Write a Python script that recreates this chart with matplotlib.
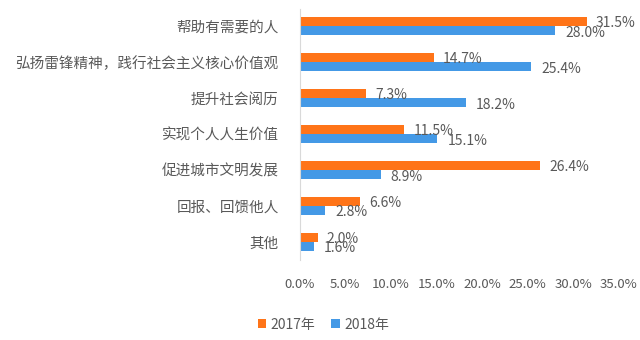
import numpy as np
import matplotlib.pyplot as plt

plt.rcParams['font.family'] = ['Noto Sans CJK SC', 'DejaVu Sans']

# 志愿服务动机，2017年与2018年对比（%）
categories = ['帮助有需要的人', '弘扬雷锋精神，践行社会主义核心价值观', '提升社会阅历',
              '实现个人人生价值', '促进城市文明发展', '回报、回馈他人', '其他']
v2017 = [31.5, 14.7, 7.3, 11.5, 26.4, 6.6, 2.0]
v2018 = [28.0, 25.4, 18.2, 15.1, 8.9, 2.8, 1.6]
xticks = [0, 5, 10, 15, 20, 25, 30, 35]

c2017 = '#FF7418'
c2018 = '#4499E6'
txt = '#595959'

fig = plt.figure(figsize=(6.4, 3.4), dpi=100)
ax = fig.add_axes([0.468, 0.235, 0.499, 0.74])

y = np.arange(len(categories))
h = 0.25
ax.barh(y - h / 2, v2017, height=h, color=c2017, label='2017年')
ax.barh(y + h / 2, v2018, height=h, color=c2018, label='2018年')

for yi, a, b in zip(y, v2017, v2018):
    ax.text(a + 1.0, yi - h / 2 + 0.03, f'{a:.1f}%', va='center', ha='left',
            fontsize=10, color=txt)
    ax.text(b + 1.1, yi + h / 2 + 0.05, f'{b:.1f}%', va='center', ha='left',
            fontsize=10, color=txt)

ax.set_yticks(y)
ax.set_yticklabels(categories, fontsize=10.5, color=txt)
ax.set_ylim(len(categories) - 0.5, -0.5)
ax.set_xlim(0, 35)
ax.set_xticks(xticks)
ax.set_xticklabels([f'{v:.1f}%' for v in xticks], fontsize=9.5, color=txt)
ax.tick_params(axis='both', length=0)
ax.tick_params(axis='y', pad=15)
ax.tick_params(axis='x', pad=13)

for s in ['top', 'right', 'bottom']:
    ax.spines[s].set_visible(False)
ax.spines['left'].set_color('#D9D9D9')

fig.legend(loc='center', bbox_to_anchor=(0.505, 0.045), ncol=2, frameon=False,
           fontsize=10, handlelength=0.6, handleheight=0.6, handletextpad=0.3,
           columnspacing=1.2, labelcolor=txt)

fig.savefig('out.png', dpi=100)
